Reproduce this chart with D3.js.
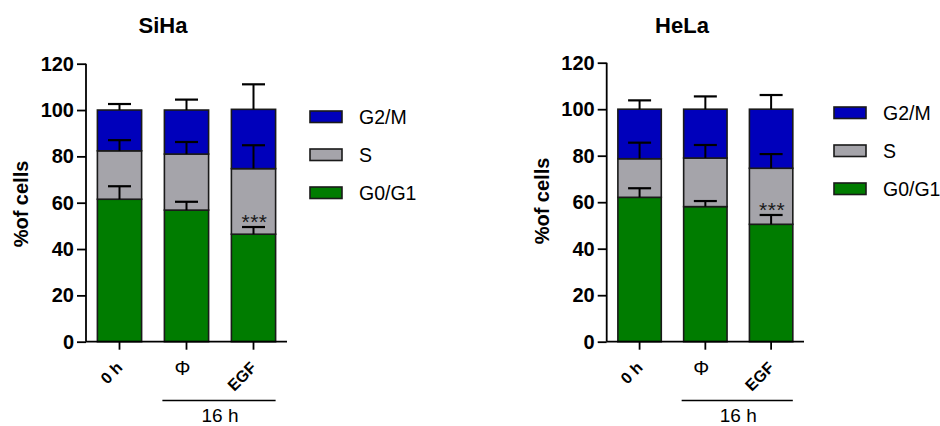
<!DOCTYPE html>
<html>
<head>
<meta charset="utf-8">
<script src="https://cdn.jsdelivr.net/npm/d3@7/dist/d3.min.js"></script>
<style>
  html, body { margin: 0; padding: 0; background: #fff; }
  svg { display: block; font-family: Arial, "Liberation Sans", sans-serif; }
</style>
</head>
<body>
<svg id="chart" width="940" height="426"></svg>
<script>
// ---------- DATA ----------
const categories = ["0 h", "\u03A6", "EGF"];
const phases = ["G2/M", "S", "G0/G1"];
const yTicks = [0, 20, 40, 60, 80, 100, 120];

// SiHa: segment heights (%) and SD
const sihaG0G1 = [61.5, 56.8, 46.4];
const sihaS = [20.9, 24.2, 28.3];
const sihaG2M = [17.6, 19.0, 25.6];
const sihaG0G1Err = [5.6, 3.6, 3.1];
const sihaSErr = [4.6, 5.2, 10.1];
const sihaG2MErr = [2.6, 4.5, 10.8];

// HeLa
const helaG0G1 = [62.1, 58.1, 50.5];
const helaS = [16.6, 20.9, 24.1];
const helaG2M = [21.3, 21.0, 25.4];
const helaG0G1Err = [3.9, 2.4, 4.0];
const helaSErr = [6.9, 5.6, 6.1];
const helaG2MErr = [3.8, 5.5, 6.1];

const significance = ["", "", "***"];

// ---------- STYLE ----------
const colors = { "G0/G1": "#007c00", "S": "#a5a4aa", "G2/M": "#0000bb" };

const svg = d3.select("#chart");

function drawPanel(cfg) {
  const g = svg.append("g");
  const x = d3.scaleBand().domain(categories).range([cfg.left, cfg.right])
    .paddingInner(0.34).paddingOuter(0.17);
  const y = d3.scaleLinear().domain([0, 120]).range([cfg.bottom, cfg.top]);

  const rows = categories.map((c, i) => ({
    cat: c,
    "G0/G1": cfg.g0g1[i], "S": cfg.s[i], "G2/M": cfg.g2m[i]
  }));
  const stack = d3.stack().keys(["G0/G1", "S", "G2/M"])(rows);
  const errs = { "G0/G1": cfg.g0g1Err, "S": cfg.sErr, "G2/M": cfg.g2mErr };

  stack.forEach(layer => {
    g.selectAll(null).data(layer).enter().append("rect")
      .attr("x", d => x(d.data.cat))
      .attr("width", x.bandwidth())
      .attr("y", d => y(d[1]))
      .attr("height", d => y(d[0]) - y(d[1]))
      .attr("fill", colors[layer.key])
      .attr("stroke", "#1a1a1a")
      .attr("stroke-width", 1.6);
  });

  // error bars
  const capW = 23;
  stack.forEach(layer => {
    layer.forEach((d, i) => {
      const cx = x(d.data.cat) + x.bandwidth() / 2;
      const yTop = y(d[1] + errs[layer.key][i]);
      g.append("line").attr("x1", cx).attr("x2", cx)
        .attr("y1", y(d[1])).attr("y2", yTop)
        .attr("stroke", "#000").attr("stroke-width", 2);
      g.append("line").attr("x1", cx - capW / 2).attr("x2", cx + capW / 2)
        .attr("y1", yTop).attr("y2", yTop)
        .attr("stroke", "#000").attr("stroke-width", 2.2);
    });
  });

  // significance stars (above G0/G1 error)
  stack[0].forEach((d, i) => {
    if (!significance[i]) return;
    const cx = x(d.data.cat) + x.bandwidth() / 2;
    g.append("text").attr("x", cx + 1).attr("y", y(d[1] + cfg.g0g1Err[i]) + 2)
      .attr("text-anchor", "middle").attr("font-size", 21)
      .attr("fill", "#1a1a1a").attr("letter-spacing", 0.5)
      .text(significance[i]);
  });

  // y axis
  const yAxis = g.append("g").attr("transform", `translate(${cfg.left},0)`)
    .call(d3.axisLeft(y).tickValues(yTicks).tickSize(9).tickPadding(3));
  yAxis.select(".domain").attr("stroke", "#000").attr("stroke-width", 1.8)
    .attr("d", `M0,${cfg.bottom}V${cfg.top}`);
  yAxis.selectAll(".tick line").attr("stroke", "#000").attr("stroke-width", 1.8);
  yAxis.selectAll(".tick text").attr("font-size", 20).attr("font-weight", "bold")
    .attr("fill", "#000").attr("font-family", "Arial, 'Liberation Sans', sans-serif");

  // x axis
  const xAxis = g.append("g").attr("transform", `translate(0,${cfg.bottom})`)
    .call(d3.axisBottom(x).tickSize(8).tickFormat(""));
  xAxis.select(".domain").attr("stroke", "#000").attr("stroke-width", 1.8)
    .attr("d", `M${cfg.left},0H${cfg.right}`);
  xAxis.selectAll(".tick line").attr("stroke", "#000").attr("stroke-width", 1.8);

  // x labels
  categories.forEach((c, i) => {
    const cx = x(c) + x.bandwidth() / 2;
    if (c === "\u03A6") {
      g.append("text").attr("x", cx - 4).attr("y", cfg.bottom + 33)
        .attr("text-anchor", "middle").attr("font-size", 20)
        .attr("fill", "#000").text(c);
    } else {
      g.append("text")
        .attr("transform", `translate(${cx + 4},${cfg.bottom + 27}) rotate(-45)`)
        .attr("text-anchor", "end").attr("font-size", 16).attr("font-weight", "bold")
        .attr("fill", "#000").text(c);
    }
  });

  // 16 h bracket
  const x1 = x(categories[1]) - 2, x2 = x(categories[2]) + x.bandwidth();
  g.append("line").attr("x1", x1).attr("x2", x2)
    .attr("y1", 400.5).attr("y2", 400.5).attr("stroke", "#000").attr("stroke-width", 1.5);
  g.append("text").attr("x", (x1 + x2) / 2 + 1).attr("y", 422)
    .attr("text-anchor", "middle").attr("font-size", 19).attr("fill", "#000").text("16 h");

  // title
  g.append("text").attr("x", cfg.titleX).attr("y", 33)
    .attr("text-anchor", "middle").attr("font-size", 22).attr("font-weight", "bold")
    .attr("fill", "#000").text(cfg.title);

  // y title
  g.append("text").attr("transform", `translate(${cfg.yTitleX},${cfg.yTitleY}) rotate(-90)`)
    .attr("text-anchor", "middle").attr("font-size", 20).attr("font-weight", "bold")
    .attr("fill", "#000").text("%of cells");

  // legend
  phases.forEach((p, i) => {
    const ly = cfg.legendY + i * 38;
    g.append("rect").attr("x", cfg.legendX).attr("y", ly - 6)
      .attr("width", 32).attr("height", 11.5)
      .attr("fill", colors[p]).attr("stroke", "#1a1a1a").attr("stroke-width", 1.6);
    g.append("text").attr("x", cfg.legendX + 49).attr("y", ly + 7)
      .attr("font-size", 19.5).attr("fill", "#000").text(p);
  });
}

drawPanel({
  title: "SiHa", titleX: 163,
  left: 86, right: 287, top: 63.7, bottom: 341.7,
  yTitleX: 27.5, yTitleY: 204,
  legendX: 310, legendY: 117,
  g0g1: sihaG0G1, s: sihaS, g2m: sihaG2M,
  g0g1Err: sihaG0G1Err, sErr: sihaSErr, g2mErr: sihaG2MErr
});

drawPanel({
  title: "HeLa", titleX: 682,
  left: 606.7, right: 804, top: 62.7, bottom: 341.7,
  yTitleX: 548.5, yTitleY: 201,
  legendX: 834, legendY: 113,
  g0g1: helaG0G1, s: helaS, g2m: helaG2M,
  g0g1Err: helaG0G1Err, sErr: helaSErr, g2mErr: helaG2MErr
});
</script>
</body>
</html>
